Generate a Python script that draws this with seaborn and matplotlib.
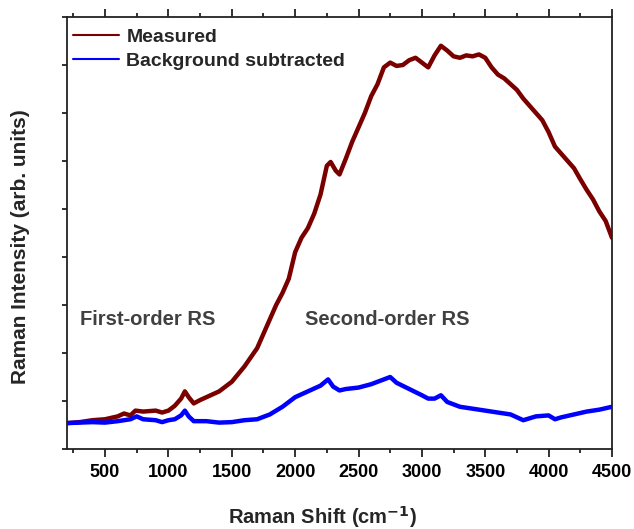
import matplotlib
matplotlib.use("Agg")
import matplotlib.pyplot as plt
from matplotlib.ticker import MultipleLocator
import seaborn as sns
import pandas as pd
import numpy as np

# Raman shift (cm-1) and intensities (arb. units)
shift_meas = [200, 300, 400, 500, 600, 650, 700, 740, 800, 900, 950, 1000, 1050, 1100,
              1130, 1160, 1200, 1250, 1300, 1400, 1500, 1600, 1700, 1800, 1850, 1900,
              1950, 2000, 2050, 2100, 2150, 2200, 2250, 2280, 2320, 2350, 2400, 2450,
              2500, 2550, 2600, 2650, 2700, 2750, 2800, 2850, 2900, 2950, 3000, 3050,
              3100, 3150, 3200, 3250, 3300, 3350, 3400, 3450, 3500, 3550, 3600, 3650,
              3700, 3750, 3800, 3850, 3900, 3950, 4000, 4050, 4100, 4150, 4200, 4250,
              4300, 4350, 4400, 4450, 4500]
measured = [0.54, 0.56, 0.60, 0.62, 0.68, 0.74, 0.70, 0.80, 0.78, 0.80, 0.76, 0.80, 0.90,
            1.05, 1.20, 1.08, 0.95, 1.02, 1.08, 1.20, 1.40, 1.72, 2.10, 2.70, 3.00, 3.25,
            3.55, 4.10, 4.40, 4.60, 4.90, 5.30, 5.90, 5.98, 5.80, 5.72, 6.05, 6.40, 6.70,
            7.00, 7.35, 7.60, 7.95, 8.05, 7.98, 8.00, 8.10, 8.15, 8.05, 7.95, 8.20, 8.40,
            8.30, 8.18, 8.15, 8.20, 8.18, 8.22, 8.15, 7.95, 7.80, 7.72, 7.60, 7.48, 7.30,
            7.15, 7.00, 6.85, 6.60, 6.30, 6.15, 6.00, 5.85, 5.62, 5.40, 5.20, 4.95, 4.75,
            4.40]

shift_bg = [200, 300, 400, 500, 600, 700, 750, 800, 900, 950, 1000, 1050, 1100, 1130,
            1160, 1200, 1300, 1400, 1500, 1600, 1700, 1800, 1900, 2000, 2100, 2200, 2260,
            2300, 2350, 2400, 2500, 2600, 2700, 2750, 2800, 2900, 3000, 3050, 3100, 3150,
            3200, 3300, 3400, 3500, 3600, 3700, 3800, 3900, 4000, 4050, 4100, 4200, 4300,
            4400, 4500]
bg_sub = [0.54, 0.55, 0.56, 0.55, 0.58, 0.62, 0.68, 0.62, 0.60, 0.56, 0.60, 0.62, 0.70,
          0.80, 0.68, 0.58, 0.58, 0.55, 0.56, 0.60, 0.62, 0.72, 0.88, 1.08, 1.20, 1.32,
          1.45, 1.30, 1.22, 1.25, 1.28, 1.35, 1.45, 1.50, 1.38, 1.25, 1.12, 1.05, 1.05,
          1.12, 0.98, 0.88, 0.84, 0.80, 0.76, 0.72, 0.60, 0.68, 0.70, 0.62, 0.66, 0.72,
          0.78, 0.82, 0.88]

labels = ["Measured", "Background subtracted"]

df = pd.concat([
    pd.DataFrame({"shift": shift_meas, "intensity": measured, "series": labels[0]}),
    pd.DataFrame({"shift": shift_bg, "intensity": bg_sub, "series": labels[1]}),
])

sns.set_style("ticks")
plt.rcParams['font.family'] = ['Liberation Sans', 'DejaVu Sans']
plt.rcParams['font.weight'] = 'bold'

fig = plt.figure(figsize=(6.34, 5.29), dpi=100)
ax = fig.add_axes([0.1057, 0.1512, 0.8596, 0.8167])

sns.lineplot(data=df, x="shift", y="intensity", hue="series", hue_order=labels,
             palette=["#7a0000", "#0000ff"], linewidth=3.2, sort=False,
             estimator=None, ax=ax)

ax.set_xlim(200, 4500)
ax.set_ylim(0, 9)
ax.xaxis.set_major_locator(MultipleLocator(500))
ax.xaxis.set_minor_locator(MultipleLocator(250))
ax.yaxis.set_major_locator(MultipleLocator(1))
ax.set_yticklabels([])
ax.tick_params(axis='x', which='major', direction='out', length=6, width=1.3,
               top=True, labelsize=13, pad=5, colors='#222222', labelcolor='black')
ax.tick_params(axis='x', which='minor', direction='out', length=3, width=1.3, top=True,
               colors='#222222')
ax.tick_params(axis='y', which='major', direction='out', length=3.5, width=1.3,
               right=False, colors='#222222')
for s in ax.spines.values():
    s.set_linewidth(1.3)
    s.set_color('#222222')

ax.set_xlabel("Raman Shift (cm$^{\\mathbf{-1}}$)", fontsize=14.5, fontweight='bold')
ax.set_ylabel("Raman Intensity (arb. units)", fontsize=15, fontweight='bold')
ax.xaxis.set_label_coords(0.468, -0.128)
ax.yaxis.set_label_coords(-0.068, 0.468)

ax.text(302, 2.69, "First-order RS", fontsize=14.5, fontweight='bold', color='#404040',
        va='center', ha='left')
ax.text(2074, 2.69, "Second-order RS", fontsize=14.5, fontweight='bold', color='#404040',
        va='center', ha='left')

leg = ax.legend(loc='upper left', bbox_to_anchor=(-0.011, 1.0), frameon=False,
                fontsize=14, handlelength=2.4, handletextpad=0.36,
                borderaxespad=0.2, labelspacing=0.3)
for line in leg.get_lines():
    line.set_linewidth(1.5)

fig.savefig("out.png", dpi=100)
